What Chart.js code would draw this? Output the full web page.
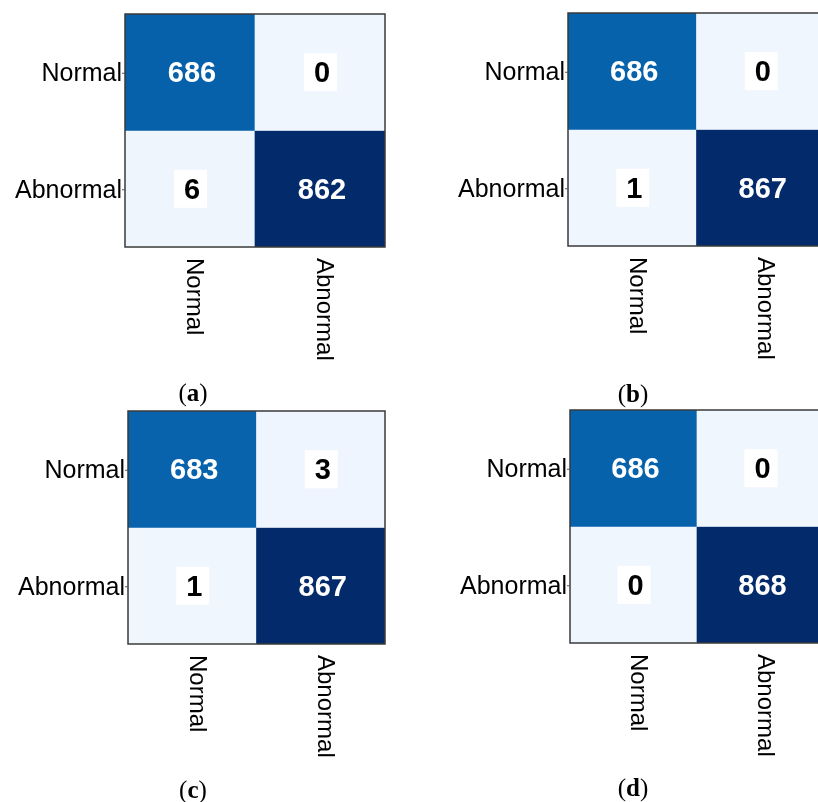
<!DOCTYPE html>
<html>
<head>
<meta charset="utf-8">
<script src="https://cdn.jsdelivr.net/npm/chart.js@4"></script>
<style>
  html, body { margin: 0; padding: 0; background: #fff; }
  body { width: 818px; height: 802px; position: relative; overflow: hidden; }
  canvas { position: absolute; }
  .cap {
    position: absolute; transform: translate(-50%, -50%);
    font-family: "Liberation Serif", "DejaVu Serif", serif; font-size: 25px; color: #000;
    white-space: nowrap;
  }
  .cap b { font-weight: bold; }
</style>
</head>
<body>
<canvas id="cmA" width="410" height="400" style="left:0;top:0"></canvas>
<canvas id="cmB" width="420" height="400" style="left:410px;top:0"></canvas>
<canvas id="cmC" width="410" height="400" style="left:0;top:400px"></canvas>
<canvas id="cmD" width="420" height="400" style="left:410px;top:400px"></canvas>
<div class="cap" style="left:193px;top:393px">(<b>a</b>)</div>
<div class="cap" style="left:633px;top:394px">(<b>b</b>)</div>
<div class="cap" style="left:193px;top:790px">(<b>c</b>)</div>
<div class="cap" style="left:633px;top:788px">(<b>d</b>)</div>
<script>
// Class names (rows = true class, columns = predicted class)
const classes = ['Normal', 'Abnormal'];

// Confusion-matrix counts per model, row by row
const countsA = [[686, 0], [6, 862]];
const countsB = [[686, 0], [1, 867]];
const countsC = [[683, 3], [1, 867]];
const countsD = [[686, 0], [0, 868]];

// "Blues"-style ramp used to shade the cells
function hex(h) { return [1, 3, 5].map(i => parseInt(h.slice(i, i + 2), 16)); }
const rampStops = [[0, hex('#f0f6fe')], [0.79, hex('#0762ac')], [1, hex('#032a6a')]];
function cellColor(v, max) {
  const t = Math.max(0, Math.min(1, v / max));
  for (let i = 1; i < rampStops.length; i++) {
    const [t1, c1] = rampStops[i];
    const [t0, c0] = rampStops[i - 1];
    if (t <= t1) {
      const f = (t - t0) / (t1 - t0);
      const c = c0.map((x, k) => Math.round(x + (c1[k] - x) * f));
      return `rgb(${c[0]},${c[1]},${c[2]})`;
    }
  }
  const c = rampStops[rampStops.length - 1][1];
  return `rgb(${c[0]},${c[1]},${c[2]})`;
}

// Draws the frame, class labels and the count in each cell
const matrixLabels = {
  id: 'matrixLabels',
  afterDatasetsDraw(chart) {
    const { ctx, chartArea: a, scales: { x, y } } = chart;
    const counts = chart.config.options.plugins.matrixLabels.counts;
    const max = Math.max(...counts.flat());
    ctx.save();

    // frame
    ctx.strokeStyle = '#3a3a3a';
    ctx.lineWidth = 1.5;
    ctx.strokeRect(a.left, a.top, a.right - a.left, a.bottom - a.top);

    // cell values
    ctx.textAlign = 'center';
    ctx.textBaseline = 'middle';
    ctx.font = 'bold 29px "Liberation Sans", Arial, sans-serif';
    counts.forEach((row, r) => {
      row.forEach((v, c) => {
        const cx = x.getPixelForValue(c);
        const cy = y.getPixelForValue(r);
        if (v / max < 0.5) {
          ctx.fillStyle = '#ffffff';
          ctx.fillRect(cx - 16, cy - 19, 33, 38);
          ctx.fillStyle = '#000000';
        } else {
          ctx.fillStyle = '#ffffff';
        }
        ctx.fillText(String(v), cx + 2, cy + 2);
      });
    });

    // row labels (true class) with small ticks
    ctx.font = '25px "Liberation Sans", Arial, sans-serif';
    ctx.fillStyle = '#000';
    ctx.textAlign = 'right';
    ctx.strokeStyle = '#555';
    ctx.lineWidth = 1;
    classes.forEach((name, r) => {
      const py = y.getPixelForValue(r);
      ctx.beginPath();
      ctx.moveTo(a.left - 3, py + 1);
      ctx.lineTo(a.left, py + 1);
      ctx.stroke();
      ctx.fillText(name, a.left - 3, py + 2);
    });

    // column labels (predicted class), reading top to bottom
    ctx.font = '24px "Liberation Sans", Arial, sans-serif';
    ctx.textAlign = 'left';
    classes.forEach((name, c) => {
      const px = x.getPixelForValue(c);
      ctx.save();
      ctx.translate(px + 4, a.bottom + 11);
      ctx.rotate(Math.PI / 2);
      ctx.fillText(name, 0, 0);
      ctx.restore();
    });
    ctx.restore();
  }
};

function drawMatrix(id, counts, pad) {
  const max = Math.max(...counts.flat());
  new Chart(document.getElementById(id), {
    type: 'bar',
    data: {
      labels: classes,
      datasets: counts.map((row, r) => ({
        label: classes[r],
        data: row.map(() => [r - 0.5, r + 0.5]),
        backgroundColor: row.map(v => cellColor(v, max)),
        borderWidth: 0,
        grouped: false,
        barPercentage: 1,
        categoryPercentage: 1
      }))
    },
    options: {
      responsive: false,
      animation: false,
      events: [],
      layout: { padding: pad },
      scales: {
        x: { type: 'category', display: false },
        y: { type: 'linear', min: -0.5, max: 1.5, reverse: true, display: false }
      },
      plugins: {
        legend: { display: false },
        tooltip: { enabled: false },
        matrixLabels: { counts }
      }
    },
    plugins: [matrixLabels]
  });
}

drawMatrix('cmA', countsA, { left: 125, top: 14, right: 25, bottom: 153 });
drawMatrix('cmB', countsB, { left: 158, top: 13, right: 5, bottom: 154 });
drawMatrix('cmC', countsC, { left: 128, top: 11, right: 25, bottom: 156 });
drawMatrix('cmD', countsD, { left: 160, top: 10, right: 6, bottom: 157 });
</script>
</body>
</html>
